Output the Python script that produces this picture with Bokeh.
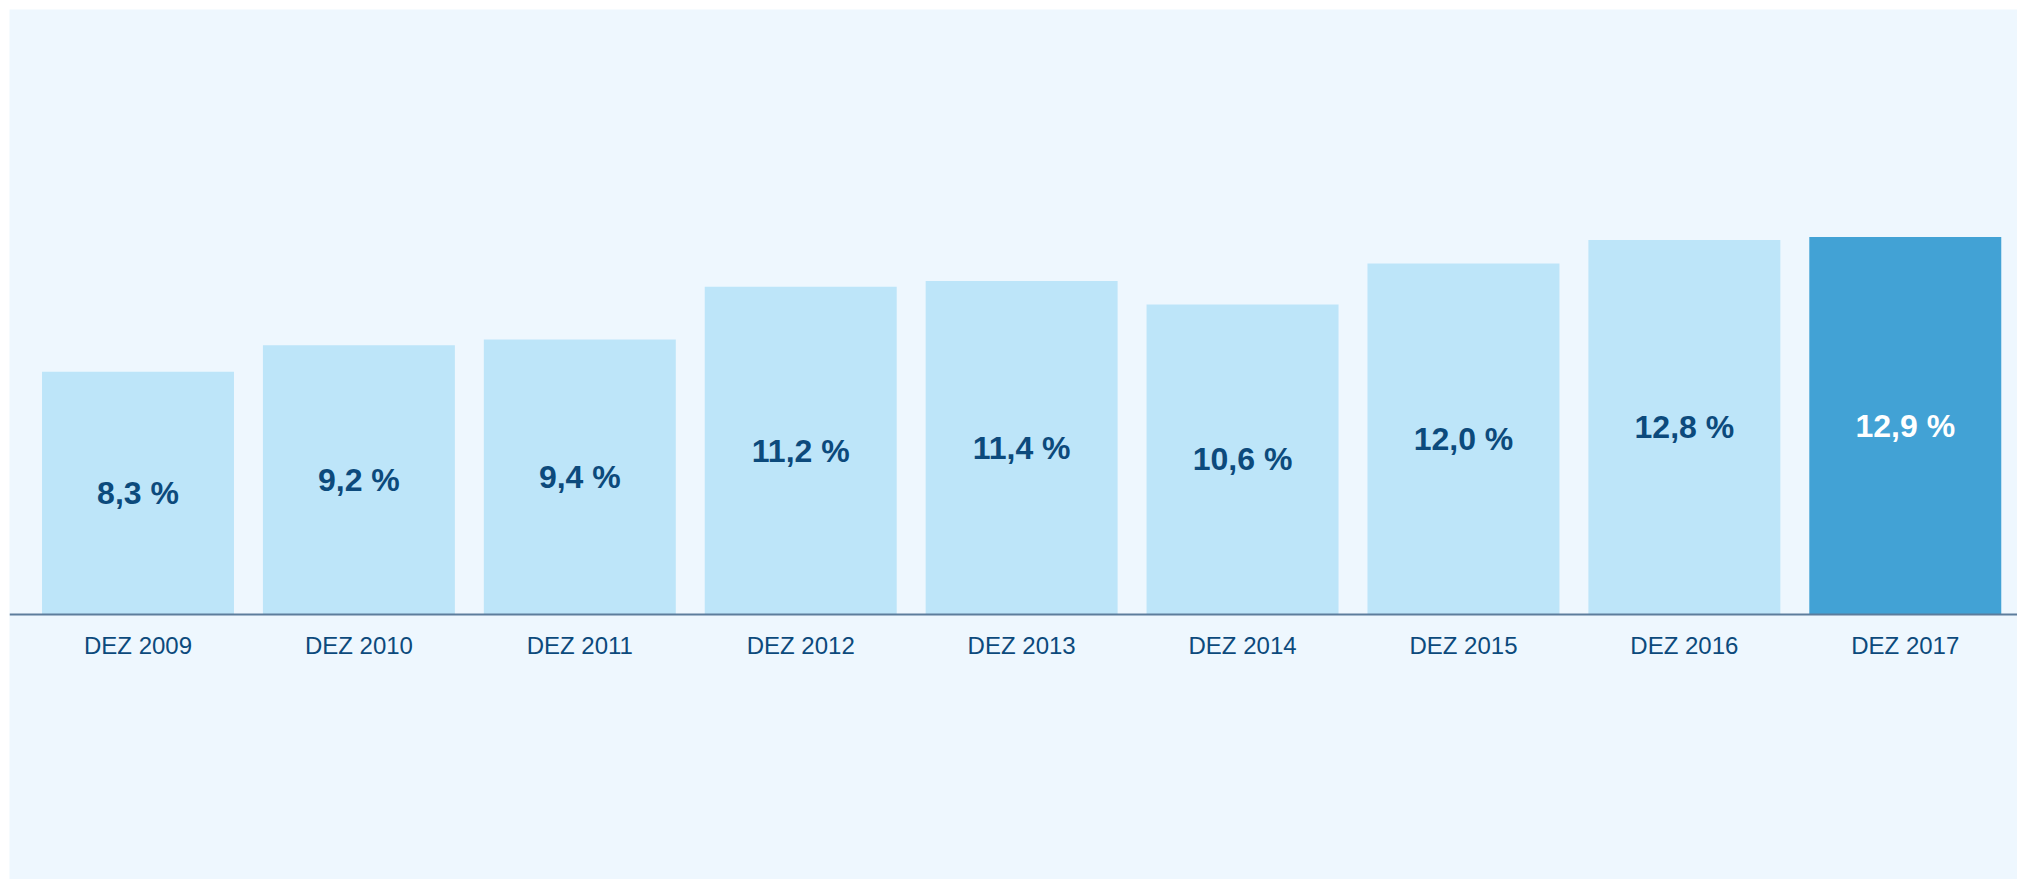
from bokeh.plotting import figure
from bokeh.models import ColumnDataSource, Range1d, FixedTicker, LinearAxis
from bokeh.core.properties import value
from bokeh.embed import file_html
from bokeh.resources import INLINE

categories = ["DEZ 2009", "DEZ 2010", "DEZ 2011", "DEZ 2012", "DEZ 2013",
              "DEZ 2014", "DEZ 2015", "DEZ 2016", "DEZ 2017"]
values = [8.3, 9.2, 9.4, 11.2, 11.4, 10.6, 12.0, 12.8, 12.9]
highlight = "DEZ 2017"

BG = "#eef7fe"
BAR = "#bde5f9"
BAR_HI = "#42a2d5"
DARK = "#0c4a7c"

xs = list(range(len(categories)))
labels = [f"{v:.1f}".replace(".", ",") + " %" for v in values]
fills = [BAR_HI if c == highlight else BAR for c in categories]
tcols = ["#ffffff" if c == highlight else DARK for c in categories]
mids = [v / 2 for v in values]

src = ColumnDataSource(dict(x=xs, top=values, label=labels, fill=fills,
                            tcol=tcols, mid=mids))

p = figure(width=2017, height=879, output_backend="svg", toolbar_location=None,
           x_range=Range1d(-0.5817, 8.508), y_range=Range1d(-9.06, 20.68),
           x_axis_location=None, y_axis_location=None,
           min_border_left=9, min_border_right=0, min_border_top=9,
           min_border_bottom=0)
p.background_fill_color = BG
p.border_fill_color = "#ffffff"
p.outline_line_color = None
p.grid.visible = False

p.vbar(x="x", top="top", bottom=0, width=0.869, source=src,
       fill_color="fill", line_color=None)
p.text(x="x", y="mid", text="label", source=src, text_color="tcol",
       text_align="center", text_baseline="middle",
       text_font=value("Liberation Sans"), text_font_size="32px",
       text_font_style="bold")

ax = LinearAxis(fixed_location=0)
ax.ticker = FixedTicker(ticks=xs)
ax.major_label_overrides = {i: c for i, c in zip(xs, categories)}
ax.major_tick_line_color = None
ax.minor_tick_line_color = None
ax.axis_line_color = "#5d7d9c"
ax.axis_line_width = 2
ax.major_label_text_font = "Liberation Sans"
ax.major_label_text_font_size = "24px"
ax.major_label_text_color = DARK
ax.major_label_standoff = 12
p.add_layout(ax, "below")

open("out.html", "w").write(file_html(p, INLINE))
